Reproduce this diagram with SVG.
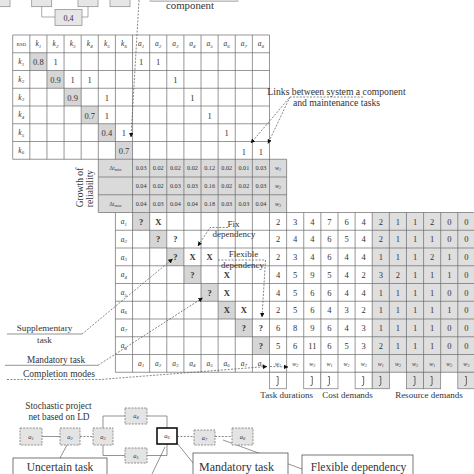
<svg xmlns="http://www.w3.org/2000/svg" width="474" height="474" viewBox="0 0 474 474">
<style>
.g{stroke:#6a6a6a;stroke-width:.7;fill:none}
.t{font-family:"Liberation Serif",serif;fill:#333;text-anchor:middle}
.n{font-size:8.5px}
.s{font-size:6.2px}
.q{font-size:8.5px;font-weight:bold}
.it{font-style:italic;font-size:7.5px}
.sb{font-size:5px}
.lb{font-family:"Liberation Serif",serif;fill:#333;font-size:9.4px;text-anchor:middle}
.dl{stroke:#555;stroke-width:.7;stroke-dasharray:2 1.4;fill:none}
.sl{stroke:#666;stroke-width:.7;fill:none}
.gc{fill:#d6d6d6}
.nd{fill:#e4e4e4;stroke:#777;stroke-width:.8;stroke-dasharray:2 1.2}
.tb{fill:#e6e6e6;stroke:#888;stroke-width:.7}
.jb{fill:#fff;stroke:#777;stroke-width:.7}
.jm{fill:none;stroke:#444;stroke-width:.8}
</style>
<defs>
<marker id="ah" viewBox="0 0 6 6" refX="5.5" refY="3" markerWidth="4.5" markerHeight="4.5" orient="auto" markerUnits="userSpaceOnUse"><path d="M0,0L6,3L0,6z" fill="#111"/></marker>
</defs>

<g id="top-parts">
<rect class="tb" x="-5" y="-8" width="15" height="14.7"/>
<rect class="tb" x="31.7" y="-8" width="20" height="14.7"/>
<rect class="tb" x="78" y="-8" width="20" height="14.7"/>
<rect class="tb" x="110" y="-8" width="20" height="14.7"/>
<path class="sl" d="M41.7 6.7V17H55M88 6.7V17H82" style="stroke:#888"/>
<rect class="tb" x="55" y="9.5" width="27" height="16"/>
<text class="t" x="68.5" y="20.5" style="font-size:8px">0,4</text>
<rect x="150" y="-6" width="88" height="7.7" fill="#d8d8d8" stroke="#aaa" stroke-width=".6"/>
<text class="lb" x="190" y="8.7" style="font-size:10.8px">component</text>
</g>

<g id="upper-matrix">
<rect class="gc" x="29.82" y="52.75" width="17.12" height="17.75"/>
<rect class="gc" x="46.94" y="70.5" width="17.12" height="17.75"/>
<rect class="gc" x="64.06" y="88.25" width="17.12" height="17.75"/>
<rect class="gc" x="81.18" y="106" width="17.12" height="17.75"/>
<rect class="gc" x="98.3" y="123.75" width="17.12" height="17.75"/>
<rect class="gc" x="115.42" y="141.5" width="17.12" height="17.75"/>
<rect x="98.3" y="159.25" width="188.32" height="53.25" fill="#dadada"/>
<path class="g" d="M12.7 35V159.25M29.82 35V159.25M46.94 35V159.25M64.06 35V159.25M81.18 35V159.25M98.3 35V212.5M115.42 35V159.25M132.54 35V212.5M149.66 35V212.5M166.78 35V212.5M183.9 35V212.5M201.02 35V212.5M218.14 35V212.5M235.26 35V212.5M252.38 35V212.5M269.5 35V212.5M286.62 159.25V212.5M12.7 35H269.5M12.7 52.75H269.5M12.7 70.5H269.5M12.7 88.25H269.5M12.7 106H269.5M12.7 123.75H269.5M12.7 141.5H269.5M12.7 159.25H286.62M98.3 177H286.62M98.3 194.75H286.62"/>
<text class="t" x="21.26" y="45.8" style="font-size:5px">RSD</text>
<text class="t it" x="38.38" y="46.3">k<tspan class="sb" dy="1.5">1</tspan></text>
<text class="t it" x="55.5" y="46.3">k<tspan class="sb" dy="1.5">2</tspan></text>
<text class="t it" x="72.62" y="46.3">k<tspan class="sb" dy="1.5">3</tspan></text>
<text class="t it" x="89.74" y="46.3">k<tspan class="sb" dy="1.5">4</tspan></text>
<text class="t it" x="106.86" y="46.3">k<tspan class="sb" dy="1.5">5</tspan></text>
<text class="t it" x="123.98" y="46.3">k<tspan class="sb" dy="1.5">6</tspan></text>
<text class="t it" x="141.1" y="46.3">a<tspan class="sb" dy="1.5">1</tspan></text>
<text class="t it" x="158.22" y="46.3">a<tspan class="sb" dy="1.5">2</tspan></text>
<text class="t it" x="175.34" y="46.3">a<tspan class="sb" dy="1.5">3</tspan></text>
<text class="t it" x="192.46" y="46.3">a<tspan class="sb" dy="1.5">4</tspan></text>
<text class="t it" x="209.58" y="46.3">a<tspan class="sb" dy="1.5">5</tspan></text>
<text class="t it" x="226.7" y="46.3">a<tspan class="sb" dy="1.5">6</tspan></text>
<text class="t it" x="243.82" y="46.3">a<tspan class="sb" dy="1.5">7</tspan></text>
<text class="t it" x="260.94" y="46.3">a<tspan class="sb" dy="1.5">8</tspan></text>
<text class="t it" x="21.26" y="64">k<tspan class="sb" dy="1.5">1</tspan></text>
<text class="t it" x="21.26" y="81.8">k<tspan class="sb" dy="1.5">2</tspan></text>
<text class="t it" x="21.26" y="99.5">k<tspan class="sb" dy="1.5">3</tspan></text>
<text class="t it" x="21.26" y="117.3">k<tspan class="sb" dy="1.5">4</tspan></text>
<text class="t it" x="21.26" y="135">k<tspan class="sb" dy="1.5">5</tspan></text>
<text class="t it" x="21.26" y="152.8">k<tspan class="sb" dy="1.5">6</tspan></text>
<g class="t n">
<text x="38.38" y="65.2">0.8</text><text x="55.5" y="65.2">1</text><text x="141.1" y="65.2">1</text><text x="158.22" y="65.2">1</text>
<text x="55.5" y="83">0.9</text><text x="72.62" y="83">1</text><text x="89.74" y="83">1</text><text x="175.34" y="83">1</text>
<text x="72.62" y="100.7">0.9</text><text x="106.86" y="100.7">1</text><text x="192.46" y="100.7">1</text>
<text x="89.74" y="118.5">0.7</text><text x="106.86" y="118.5">1</text><text x="209.58" y="118.5">1</text>
<text x="106.86" y="136.2">0.4</text><text x="123.98" y="136.2">1</text><text x="226.7" y="136.2">1</text>
<text x="123.98" y="154">0.7</text><text x="243.82" y="154.5">1</text><text x="260.94" y="154.5">1</text>
</g>
</g>

<g id="reliability-rows">
<text class="t" x="115.42" y="170.3" style="font-size:5.6px">Δt<tspan dy="1" style="font-size:4.2px">min</tspan></text>
<text class="t" x="115.42" y="205.8" style="font-size:5.6px">Δt<tspan dy="1" style="font-size:4.2px">max</tspan></text>
<g class="t s">
<text x="141.1" y="170.3">0.03</text><text x="158.22" y="170.3">0.02</text><text x="175.34" y="170.3">0.02</text><text x="192.46" y="170.3">0.02</text><text x="209.58" y="170.3">0.12</text><text x="226.7" y="170.3">0.02</text><text x="243.82" y="170.3">0.01</text><text x="260.94" y="170.3">0.03</text>
<text x="141.1" y="188">0.04</text><text x="158.22" y="188">0.02</text><text x="175.34" y="188">0.03</text><text x="192.46" y="188">0.03</text><text x="209.58" y="188">0.16</text><text x="226.7" y="188">0.02</text><text x="243.82" y="188">0.02</text><text x="260.94" y="188">0.03</text>
<text x="141.1" y="205.8">0.04</text><text x="158.22" y="205.8">0.03</text><text x="175.34" y="205.8">0.04</text><text x="192.46" y="205.8">0.04</text><text x="209.58" y="205.8">0.18</text><text x="226.7" y="205.8">0.03</text><text x="243.82" y="205.8">0.03</text><text x="260.94" y="205.8">0.04</text>
</g>
<text class="t it" x="278.06" y="170" style="font-size:6px">w<tspan dy="1.3" style="font-size:4px">1</tspan></text>
<text class="t it" x="278.06" y="187.8" style="font-size:6px">w<tspan dy="1.3" style="font-size:4px">2</tspan></text>
<text class="t it" x="278.06" y="205.5" style="font-size:6px">w<tspan dy="1.3" style="font-size:4px">3</tspan></text>
<text class="lb" transform="translate(83,187.5) rotate(-90)" style="font-size:9.6px">Growth of</text>
<text class="lb" transform="translate(93.3,188.5) rotate(-90)" style="font-size:9.6px">reliability</text>
</g>

<g id="lower-matrix">
<rect class="gc" x="132.54" y="212.5" width="17.12" height="17.75"/>
<rect class="gc" x="149.66" y="230.25" width="17.12" height="17.75"/>
<rect class="gc" x="166.78" y="248" width="17.12" height="17.75"/>
<rect class="gc" x="183.9" y="265.75" width="17.12" height="17.75"/>
<rect class="gc" x="201.02" y="283.5" width="17.12" height="17.75"/>
<rect class="gc" x="218.14" y="301.25" width="17.12" height="17.75"/>
<rect class="gc" x="235.26" y="319" width="17.12" height="17.75"/>
<rect class="gc" x="252.38" y="336.75" width="17.12" height="17.75"/>
<rect x="372.22" y="212.5" width="102" height="159.75" fill="#dfdfdf"/>
<path class="g" d="M115.42 212.5V372.25M132.54 212.5V372.25M149.66 212.5V372.25M166.78 212.5V372.25M183.9 212.5V372.25M201.02 212.5V372.25M218.14 212.5V372.25M235.26 212.5V372.25M252.38 212.5V372.25M269.5 212.5V372.25M286.62 212.5V372.25M303.74 212.5V372.25M320.86 212.5V372.25M337.98 212.5V372.25M355.1 212.5V372.25M372.22 212.5V372.25M389.34 212.5V372.25M406.46 212.5V372.25M423.58 212.5V372.25M440.7 212.5V372.25M457.82 212.5V372.25M98.3 212.5H474M115.42 230.25H474M115.42 248H474M115.42 265.75H474M115.42 283.5H474M115.42 301.25H474M115.42 319H474M115.42 336.75H474M115.42 354.5H474M115.42 372.25H474"/>
<text class="t it" x="123.98" y="224">a<tspan class="sb" dy="1.5">1</tspan></text>
<text class="t it" x="123.98" y="241.8">a<tspan class="sb" dy="1.5">2</tspan></text>
<text class="t it" x="123.98" y="259.5">a<tspan class="sb" dy="1.5">3</tspan></text>
<text class="t it" x="123.98" y="277.3">a<tspan class="sb" dy="1.5">4</tspan></text>
<text class="t it" x="123.98" y="295">a<tspan class="sb" dy="1.5">5</tspan></text>
<text class="t it" x="123.98" y="312.8">a<tspan class="sb" dy="1.5">6</tspan></text>
<text class="t it" x="123.98" y="330.5">a<tspan class="sb" dy="1.5">7</tspan></text>
<text class="t it" x="123.98" y="348.3">a<tspan class="sb" dy="1.5">8</tspan></text>
<g class="t q">
<text x="141.1" y="224.7">?</text><text x="158.22" y="224.7">X</text>
<text x="158.22" y="242.4">?</text><text x="175.34" y="242.4">?</text>
<text x="175.34" y="260.2">?</text><text x="192.46" y="260.2">X</text><text x="209.58" y="260.2">X</text>
<text x="192.46" y="278">?</text><text x="226.7" y="278">X</text>
<text x="209.58" y="295.7">?</text><text x="226.7" y="295.7">X</text>
<text x="226.7" y="313.4">X</text><text x="243.82" y="313.4">X</text>
<text x="243.82" y="331.2">?</text><text x="260.94" y="331.2">?</text>
<text x="260.94" y="349">?</text>
</g>
<g class="t it">
<text x="141.1" y="365.8">a<tspan class="sb" dy="1.5">1</tspan></text>
<text x="158.22" y="365.8">a<tspan class="sb" dy="1.5">2</tspan></text>
<text x="175.34" y="365.8">a<tspan class="sb" dy="1.5">3</tspan></text>
<text x="192.46" y="365.8">a<tspan class="sb" dy="1.5">4</tspan></text>
<text x="209.58" y="365.8">a<tspan class="sb" dy="1.5">5</tspan></text>
<text x="226.7" y="365.8">a<tspan class="sb" dy="1.5">6</tspan></text>
<text x="243.82" y="365.8">a<tspan class="sb" dy="1.5">7</tspan></text>
<text x="260.94" y="365.8">a<tspan class="sb" dy="1.5">8</tspan></text>
</g>
</g>

<g id="demands">
<g class="t n">
<text x="278.06" y="224.5">2</text><text x="295.18" y="224.5">3</text><text x="312.3" y="224.5">4</text><text x="329.42" y="224.5">7</text><text x="346.54" y="224.5">6</text><text x="363.66" y="224.5">4</text><text x="380.78" y="224.5">2</text><text x="397.9" y="224.5">1</text><text x="415.02" y="224.5">1</text><text x="432.14" y="224.5">2</text><text x="449.26" y="224.5">0</text><text x="466.38" y="224.5">0</text>
<text x="278.06" y="242.2">2</text><text x="295.18" y="242.2">4</text><text x="312.3" y="242.2">4</text><text x="329.42" y="242.2">6</text><text x="346.54" y="242.2">5</text><text x="363.66" y="242.2">4</text><text x="380.78" y="242.2">2</text><text x="397.9" y="242.2">1</text><text x="415.02" y="242.2">1</text><text x="432.14" y="242.2">1</text><text x="449.26" y="242.2">0</text><text x="466.38" y="242.2">0</text>
<text x="278.06" y="260">2</text><text x="295.18" y="260">3</text><text x="312.3" y="260">4</text><text x="329.42" y="260">6</text><text x="346.54" y="260">4</text><text x="363.66" y="260">4</text><text x="380.78" y="260">1</text><text x="397.9" y="260">1</text><text x="415.02" y="260">1</text><text x="432.14" y="260">2</text><text x="449.26" y="260">1</text><text x="466.38" y="260">0</text>
<text x="278.06" y="277.7">4</text><text x="295.18" y="277.7">5</text><text x="312.3" y="277.7">9</text><text x="329.42" y="277.7">5</text><text x="346.54" y="277.7">4</text><text x="363.66" y="277.7">2</text><text x="380.78" y="277.7">3</text><text x="397.9" y="277.7">2</text><text x="415.02" y="277.7">1</text><text x="432.14" y="277.7">1</text><text x="449.26" y="277.7">1</text><text x="466.38" y="277.7">0</text>
<text x="278.06" y="295.5">4</text><text x="295.18" y="295.5">5</text><text x="312.3" y="295.5">6</text><text x="329.42" y="295.5">6</text><text x="346.54" y="295.5">4</text><text x="363.66" y="295.5">4</text><text x="380.78" y="295.5">1</text><text x="397.9" y="295.5">1</text><text x="415.02" y="295.5">1</text><text x="432.14" y="295.5">1</text><text x="449.26" y="295.5">0</text><text x="466.38" y="295.5">0</text>
<text x="278.06" y="313.2">2</text><text x="295.18" y="313.2">5</text><text x="312.3" y="313.2">6</text><text x="329.42" y="313.2">4</text><text x="346.54" y="313.2">3</text><text x="363.66" y="313.2">2</text><text x="380.78" y="313.2">1</text><text x="397.9" y="313.2">1</text><text x="415.02" y="313.2">1</text><text x="432.14" y="313.2">1</text><text x="449.26" y="313.2">1</text><text x="466.38" y="313.2">0</text>
<text x="278.06" y="331">6</text><text x="295.18" y="331">8</text><text x="312.3" y="331">9</text><text x="329.42" y="331">6</text><text x="346.54" y="331">4</text><text x="363.66" y="331">3</text><text x="380.78" y="331">1</text><text x="397.9" y="331">1</text><text x="415.02" y="331">1</text><text x="432.14" y="331">1</text><text x="449.26" y="331">0</text><text x="466.38" y="331">0</text>
<text x="278.06" y="348.7">5</text><text x="295.18" y="348.7">6</text><text x="312.3" y="348.7">11</text><text x="329.42" y="348.7">6</text><text x="346.54" y="348.7">5</text><text x="363.66" y="348.7">3</text><text x="380.78" y="348.7">2</text><text x="397.9" y="348.7">1</text><text x="415.02" y="348.7">1</text><text x="432.14" y="348.7">1</text><text x="449.26" y="348.7">0</text><text x="466.38" y="348.7">0</text>
</g>
<g class="t it" style="font-size:6px">
<text x="278.06" y="365.5">w<tspan dy="1.3" style="font-size:4px">1</tspan></text>
<text x="295.18" y="365.5">w<tspan dy="1.3" style="font-size:4px">2</tspan></text>
<text x="312.3" y="365.5">w<tspan dy="1.3" style="font-size:4px">3</tspan></text>
<text x="329.42" y="365.5">w<tspan dy="1.3" style="font-size:4px">1</tspan></text>
<text x="346.54" y="365.5">w<tspan dy="1.3" style="font-size:4px">2</tspan></text>
<text x="363.66" y="365.5">w<tspan dy="1.3" style="font-size:4px">3</tspan></text>
<text x="380.78" y="365.5">w<tspan dy="1.3" style="font-size:4px">1</tspan></text>
<text x="397.9" y="365.5">w<tspan dy="1.3" style="font-size:4px">2</tspan></text>
<text x="415.02" y="365.5">w<tspan dy="1.3" style="font-size:4px">3</tspan></text>
<text x="432.14" y="365.5">w<tspan dy="1.3" style="font-size:4px">1</tspan></text>
<text x="449.26" y="365.5">w<tspan dy="1.3" style="font-size:4px">2</tspan></text>
<text x="466.38" y="365.5">w<tspan dy="1.3" style="font-size:4px">3</tspan></text>
</g>
<rect class="jb" x="269.5" y="372.25" width="17.12" height="16.5"/>
<rect class="jb" x="303.74" y="372.25" width="17.12" height="16.5"/>
<rect class="jb" x="320.86" y="372.25" width="17.12" height="16.5"/>
<rect class="jb" x="355.1" y="372.25" width="17.12" height="16.5"/>
<rect class="jb" x="372.22" y="372.25" width="17.12" height="16.5" style="fill:#dfdfdf"/>
<rect class="jb" x="406.46" y="372.25" width="17.12" height="16.5" style="fill:#dfdfdf"/>
<rect class="jb" x="423.58" y="372.25" width="17.12" height="16.5" style="fill:#dfdfdf"/>
<rect class="jb" x="457.82" y="372.25" width="17.12" height="16.5" style="fill:#dfdfdf"/>
<path class="jm" d="M276.6 376.5H278.1V384Q278.1 386 276.1 385.6M310.8 376.5H312.3V384Q312.3 386 310.3 385.6M327.9 376.5H329.4V384Q329.4 386 327.4 385.6M362.2 376.5H363.7V384Q363.7 386 361.7 385.6M379.3 376.5H380.8V384Q380.8 386 378.8 385.6M413.5 376.5H415V384Q415 386 413 385.6M430.6 376.5H432.1V384Q432.1 386 430.1 385.6M464.9 376.5H466.4V384Q466.4 386 464.4 385.6"/>
<text class="lb" x="286.6" y="397.8" style="font-size:9px">Task durations</text>
<text class="lb" x="347.5" y="397.8" style="font-size:9px">Cost demands</text>
<text class="lb" x="429" y="397.8" style="font-size:9px">Resource demands</text>
</g>

<g id="annotations">
<text class="lb" x="336.5" y="94.8" style="font-size:9.7px">Links between system a component</text>
<text class="lb" x="336.5" y="106" style="font-size:9.7px">and maintenance tasks</text>
<text class="lb" x="233.5" y="227" style="font-size:9px">Fix</text>
<text class="lb" x="234" y="236.8" style="font-size:9px">dependency</text>
<text class="lb" x="243.5" y="257.3" style="font-size:9px">Flexible</text>
<text class="lb" x="242.5" y="267.5" style="font-size:9px">dependency</text>
<text class="lb" x="44.5" y="331" style="font-size:9.2px">Supplementary</text>
<text class="lb" x="44.5" y="343.2" style="font-size:9.2px">task</text>
<text class="lb" x="56" y="362.5" style="font-size:9.3px">Mandatory task</text>
<text class="lb" x="59" y="376.7" style="font-size:9.5px">Completion modes</text>
</g>

<g id="connectors">
<path class="dl" d="M139 0L131 137" marker-end="url(#ah)"/>
<path class="dl" d="M363 97H290L251 143" marker-end="url(#ah)"/>
<path class="dl" d="M290 97L268 143.5" marker-end="url(#ah)"/>
<path class="dl" d="M228 227.5H210L198 246" marker-end="url(#ah)"/>
<path class="dl" d="M218 260H265.5L262 317" marker-end="url(#ah)"/>
<path class="sl" d="M7 334H82"/>
<path class="dl" d="M82 334L172.5 259" marker-end="url(#ah)"/>
<path class="sl" d="M5 365.3H98"/>
<path class="dl" d="M98 365.3L202.5 298" marker-end="url(#ah)"/>
<path class="dl" d="M7 379.5H100L267 366.5" marker-end="url(#ah)"/>
<path class="dl" d="M270 366.5L288 367" marker-end="url(#ah)"/>
<path class="sl" d="M31 436.5H60"/>
<path class="dl" d="M80 436.5H93"/>
<path class="sl" d="M103 428V416H125M103 445V455.5H125M147 416H167V428M147 455.5H167V444"/>
<path class="dl" d="M177 436.5H194M215 436.5H232"/>
<path class="sl" d="M67 445L60 458M177 443L193 463M223 440L302 469M165 447L152 474"/>
</g>

<g id="network">
<text class="lb" x="58.5" y="409.3" style="font-size:9.3px">Stochastic project</text>
<text class="lb" x="59" y="420.3" style="font-size:9.3px">net based on LD</text>
<g id="n-a1"><rect class="nd" x="20" y="428" width="22" height="17"/><text class="t it" x="31" y="438.5" style="font-size:6.5px">a<tspan dy="1.3" style="font-size:4.3px">1</tspan></text></g>
<g id="n-a2"><rect class="nd" x="60" y="428" width="20" height="17"/><text class="t it" x="70" y="438.5" style="font-size:6.5px">a<tspan dy="1.3" style="font-size:4.3px">2</tspan></text></g>
<g id="n-a3"><rect class="nd" x="93" y="428" width="20" height="17"/><text class="t it" x="103" y="438.5" style="font-size:6.5px">a<tspan dy="1.3" style="font-size:4.3px">3</tspan></text></g>
<g id="n-a4"><rect class="nd" x="125" y="408" width="22" height="16"/><text class="t it" x="136" y="418" style="font-size:6.5px">a<tspan dy="1.3" style="font-size:4.3px">4</tspan></text></g>
<g id="n-a5"><rect class="nd" x="125" y="448" width="22" height="15"/><text class="t it" x="136" y="457.5" style="font-size:6.5px">a<tspan dy="1.3" style="font-size:4.3px">5</tspan></text></g>
<g id="n-a6"><rect x="157" y="428" width="20" height="16" fill="#fff" stroke="#111" stroke-width="1.6"/><text class="t it" x="167" y="438" style="font-size:6.5px">a<tspan dy="1.3" style="font-size:4.3px">6</tspan></text></g>
<g id="n-a7"><rect class="nd" x="194" y="430" width="21" height="15"/><text class="t it" x="204.5" y="439.5" style="font-size:6.5px">a<tspan dy="1.3" style="font-size:4.3px">7</tspan></text></g>
<g id="n-a8"><rect class="nd" x="232" y="428" width="21" height="17"/><text class="t it" x="242.5" y="438.5" style="font-size:6.5px">a<tspan dy="1.3" style="font-size:4.3px">8</tspan></text></g>
<g id="uncertain-box"><rect x="13" y="458" width="94" height="30" fill="#fff" stroke="#555" stroke-width=".8"/><text class="lb" x="60" y="470.5" style="font-size:11.5px">Uncertain task</text></g>
<g id="mandatory-box"><rect x="193" y="453" width="95" height="30" fill="#fff" stroke="#555" stroke-width=".8"/><text class="lb" x="236.5" y="470.5" style="font-size:12px">Mandatory task</text></g>
<g id="flexible-box"><rect x="302" y="455" width="111" height="30" fill="#fff" stroke="#555" stroke-width=".8"/><text class="lb" x="358.5" y="470.5" style="font-size:11.5px">Flexible dependency</text></g>
</g>
</svg>
